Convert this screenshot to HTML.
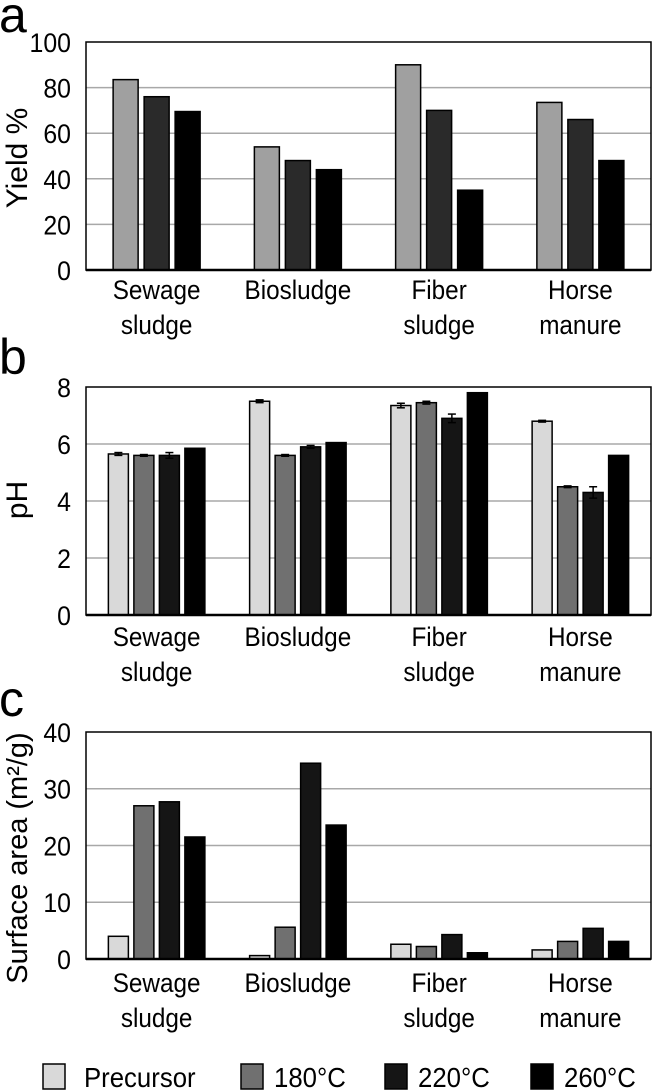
<!DOCTYPE html>
<html><head><meta charset="utf-8">
<style>
html,body{margin:0;padding:0;background:#fff;}
svg{display:block;font-family:"Liberation Sans",Arial,sans-serif;}
</style></head>
<body>
<svg id="fig" width="657" height="1091" viewBox="0 0 657 1091" xmlns="http://www.w3.org/2000/svg"></svg>
<script>
const categories = [["Sewage","sludge"],["Biosludge"],["Fiber","sludge"],["Horse","manure"]];
const yieldPrecursor = [83.5, 54, 90, 73.5];
const yield220 = [76, 48, 70, 66];
const yield260 = [69.5, 44, 35, 48];
const phPrecursor = [5.65, 7.5, 7.35, 6.8];
const ph180 = [5.6, 5.6, 7.45, 4.5];
const ph220 = [5.6, 5.9, 6.9, 4.3];
const ph260 = [5.85, 6.05, 7.8, 5.6];
const phErr = [[0.05,0.05,0.08,0.03],[0.03,0.03,0.05,0.03],[0.1,0.05,0.15,0.2],[0,0,0,0]];
const saPrecursor = [4, 0.6, 2.6, 1.6];
const sa180 = [27, 5.6, 2.2, 3.1];
const sa220 = [27.7, 34.5, 4.3, 5.4];
const sa260 = [21.5, 23.6, 1.1, 3.1];
const yieldTicks = [0,20,40,60,80,100];
const phTicks = [0,2,4,6,8];
const saTicks = [0,10,20,30,40];
const legendLabels = ["Precursor","180°C","220°C","260°C"];

const NS="http://www.w3.org/2000/svg";
const svg=document.getElementById('fig');
function mk(tag,attrs,parent){const e=document.createElementNS(NS,tag);for(const k in attrs)e.setAttribute(k,attrs[k]);(parent||svg).appendChild(e);return e;}

function panel(opt){
  const g=mk('g',{});
  
  
  const L=86,R=651,T=opt.top,B=opt.bottom;
  const ymax=opt.ticks[opt.ticks.length-1];
  const y=v=>B-(v/ymax)*(B-T);
  const catW=(R-L)/categories.length;
  const cx=i=>L+catW*(i+0.5);
  opt.ticks.forEach(t=>{
    if(t>0&&t<ymax){const l=mk('line',{x1:L,x2:R,y1:y(t),y2:y(t),stroke:'#a8a8a8','stroke-width':1.5},g);
      
      }
    const tx=mk('text',{x:71,y:y(t)+10,'text-anchor':'end','font-size':27,fill:'#000',transform:'translate(71 0) scale(0.92 1) translate(-71 0)'},g);
    tx.textContent=t;
    
    
  });
  const fr=mk('rect',{x:L,y:T,width:R-L,height:B-T,fill:'none',stroke:'#000','stroke-width':1.5},g);
  
  
  const n=opt.series.length, bw=opt.bw, gap=opt.gap;
  const span=n*bw+(n-1)*gap;
  opt.series.forEach((s,si)=>{
    s.forEach((v,ci)=>{
      const x=cx(ci)-span/2+si*(bw+gap);
      const r=mk('rect',{x:x,y:y(v),width:bw,height:B-y(v),fill:opt.colors[si],stroke:'#000','stroke-width':1.5},g);
      
      
      if(opt.err){const e=opt.err[si][ci]; if(e>0){
        const c=x+bw/2;
        mk('line',{x1:c,x2:c,y1:y(v+e),y2:y(v-e),stroke:'#000','stroke-width':1.5},g);
        mk('line',{x1:c-4,x2:c+4,y1:y(v+e),y2:y(v+e),stroke:'#000','stroke-width':1.5},g);
        mk('line',{x1:c-4,x2:c+4,y1:y(v-e),y2:y(v-e),stroke:'#000','stroke-width':1.5},g);
      }}
    });
  });
  mk('line',{x1:L,x2:R,y1:B,y2:B,stroke:'#000','stroke-width':2.5},g);
  categories.forEach((c,ci)=>{
    c.forEach((line,li)=>{
      const X=cx(ci);
      const t=mk('text',{x:X,y:B+opt.labOff+li*35,'text-anchor':'middle','font-size':27,transform:'translate('+X+' 0) scale(0.9 1) translate('+(-X)+' 0)'},g);
      t.textContent=line;
      
      
    });
  });
  const yt=mk('text',{x:0,y:0,'text-anchor':'middle','font-size':opt.titleSize,transform:'translate('+opt.titleX+','+opt.titleY+') rotate(-90)'},g);
  yt.textContent=opt.title;
  
  
  const pl=mk('text',{x:-1,y:opt.letterY,'font-size':50},g);
  pl.textContent=opt.letter;
  
  
}
panel({name:'panel-a-yield',top:42,bottom:270,ticks:yieldTicks,series:[yieldPrecursor,yield220,yield260],keys:['precursor','220','260'],colors:['#a0a0a0','#2a2a2a','#000'],bw:25,gap:6,labOff:29,title:'Yield %',titleSize:30,titleX:27,titleY:158,letter:'a',letterY:32});
panel({name:'panel-b-ph',top:387,bottom:615,ticks:phTicks,series:[phPrecursor,ph180,ph220,ph260],keys:['precursor','180','220','260'],colors:['#d9d9d9','#707070','#151515','#000'],bw:20,gap:5.5,labOff:31,title:'pH',titleSize:30,titleX:27,titleY:500,err:phErr,letter:'b',letterY:374});
panel({name:'panel-c-surface-area',top:732,bottom:959,ticks:saTicks,series:[saPrecursor,sa180,sa220,sa260],keys:['precursor','180','220','260'],colors:['#d9d9d9','#707070','#151515','#000'],bw:20,gap:5.5,labOff:33,title:'Surface area (m²/g)',titleSize:29,titleX:27,titleY:858,letter:'c',letterY:716});

const lg=mk('g',{});


const lcol=['#d9d9d9','#707070','#151515','#000'];
const lbx=[43,241,385,531];
legendLabels.forEach((lab,i)=>{
  const b=mk('rect',{x:lbx[i],y:1064,width:22,height:25,fill:lcol[i],stroke:'#000','stroke-width':1.5},lg);
  
  
  const X=lbx[i]+(i==0?41:33);
  const t=mk('text',{x:X,y:1087,'font-size':28,transform:'translate('+X+' 0) scale(0.92 1) translate('+(-X)+' 0)'},lg);
  t.textContent=lab;
  
  
});
</script>
</body></html>
